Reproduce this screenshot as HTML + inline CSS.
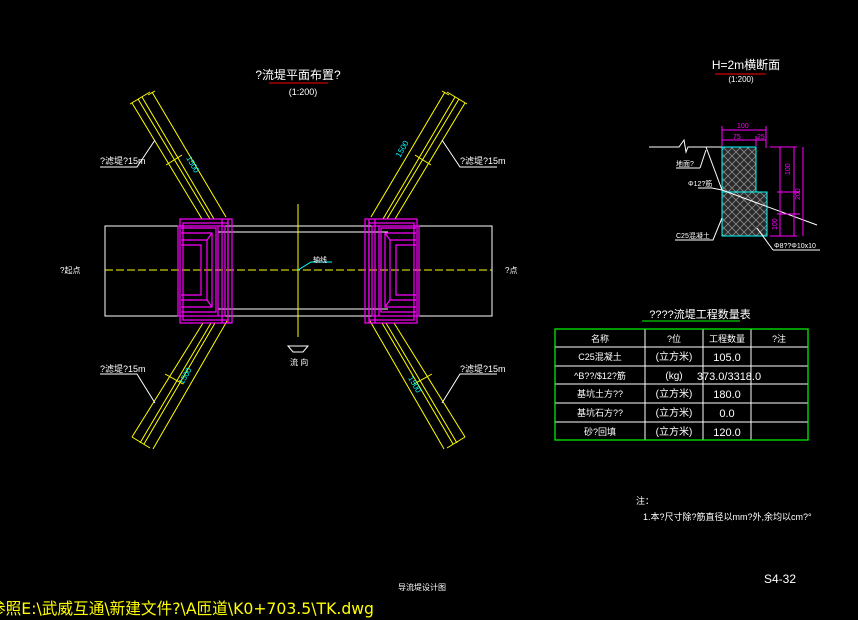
<!DOCTYPE html>
<html><head><meta charset="utf-8"><style>
html,body{margin:0;padding:0;background:#000;width:858px;height:620px;overflow:hidden}
svg{display:block}
text{font-family:"Liberation Sans","Noto Sans CJK SC",sans-serif}
</style></head><body>
<svg width="858" height="620" viewBox="0 0 858 620" xmlns="http://www.w3.org/2000/svg">
<defs>
<pattern id="hatch" width="8" height="8" patternUnits="userSpaceOnUse">
<rect width="8" height="8" fill="#2a2a2a"/>
<path d="M0 0L8 8M8 0L0 8" stroke="#888" stroke-width="0.8"/>
</pattern>
<g id="magL" fill="none" stroke="#f0f" stroke-width="1.2">
<rect x="180" y="219" width="52" height="104"/>
<rect x="178" y="226" width="47" height="90"/>
<rect x="183" y="223" width="45" height="97"/>
<line x1="218" y1="226" x2="218" y2="316"/>
<line x1="222" y1="219" x2="222" y2="323"/>
<line x1="228" y1="219" x2="228" y2="323"/>
<path d="M181 233H212V307H181"/>
<path d="M181 240H207V300H181"/>
<path d="M181 245H201V295H181"/>
<path d="M181 228H216V312H181"/>
<line x1="207" y1="240" x2="212" y2="233"/>
<line x1="207" y1="300" x2="212" y2="307"/>
</g>
<g id="bandL" fill="none" stroke="#ff0" stroke-width="1">
<line x1="132" y1="103" x2="202" y2="219"/>
<line x1="138" y1="99" x2="210" y2="219"/>
<line x1="142" y1="97" x2="214" y2="219"/>
<line x1="152" y1="92" x2="226" y2="217"/>
<line x1="130" y1="104" x2="150" y2="92"/>
<line x1="148" y1="95" x2="155" y2="91"/>
<line x1="166" y1="165" x2="182" y2="155"/>
<line x1="203" y1="323" x2="132" y2="437"/>
<line x1="211" y1="323" x2="140" y2="443"/>
<line x1="215" y1="323" x2="144" y2="444"/>
<line x1="227" y1="321" x2="153" y2="449"/>
<line x1="132" y1="437" x2="150" y2="448"/>
<line x1="165" y1="374" x2="183" y2="384"/>
</g>
</defs>

<g fill="none" stroke="#fff" stroke-width="1">
<rect x="105" y="226" width="387" height="90"/>
<line x1="218" y1="232" x2="388" y2="232"/>
<line x1="218" y1="309" x2="388" y2="309"/>
</g>
<line x1="105" y1="270" x2="492" y2="270" stroke="#ff0" stroke-width="1" stroke-dasharray="8,3"/>
<line x1="298" y1="204" x2="298" y2="337" stroke="#ff0" stroke-width="1"/>
<use href="#bandL"/>
<use href="#bandL" transform="translate(597,0) scale(-1,1)"/>
<use href="#magL"/>
<use href="#magL" transform="translate(597,0) scale(-1,1)"/>
<path d="M298 270L311 262H332" stroke="#0ff" fill="none" stroke-width="1"/>
<text x="313" y="262" fill="#fff" font-size="7">轴线</text>
<g fill="#0ff" font-size="8">
<text x="186" y="158" transform="rotate(60 186 158)">1500</text>
<text x="400" y="158" transform="rotate(-60 400 158)">1500</text>
<text x="183" y="385" transform="rotate(-60 183 385)">1500</text>
<text x="408" y="378" transform="rotate(60 408 378)">1500</text>
</g>
<g stroke="#fff" fill="none" stroke-width="1">
<path d="M100 167H137L155 140"/>
<path d="M497 167H460L442 140"/>
<path d="M100 374H137L155 403"/>
<path d="M497 374H460L442 403"/>
<path d="M288 346H308L303 352H293Z"/>
</g>
<g fill="#fff" font-size="9">
<text x="100" y="164">?滤堤?15m</text>
<text x="460" y="164">?滤堤?15m</text>
<text x="100" y="372">?滤堤?15m</text>
<text x="460" y="372">?滤堤?15m</text>
<text x="290" y="365" font-size="8">流 向</text>
<text x="60" y="273" font-size="8">?起点</text>
<text x="505" y="273" font-size="8">?点</text>
</g>
<text x="298" y="79" fill="#fff" font-size="12" text-anchor="middle">?流堤平面布置?</text>
<line x1="269" y1="83" x2="328" y2="83" stroke="#f00" stroke-width="1"/>
<text x="303" y="95" fill="#fff" font-size="9" text-anchor="middle">(1:200)</text>

<text x="746" y="69" fill="#fff" font-size="12" text-anchor="middle">H=2m横断面</text>
<line x1="715" y1="74" x2="766" y2="74" stroke="#f00" stroke-width="1"/>
<text x="741" y="82" fill="#fff" font-size="8" text-anchor="middle">(1:200)</text>
<rect x="722" y="147" width="34" height="45" fill="url(#hatch)" stroke="#0ff"/>
<rect x="722" y="192" width="45" height="44" fill="url(#hatch)" stroke="#0ff"/>
<g stroke="#fff" fill="none" stroke-width="1">
<path d="M649 147H679L684 140L686 152L688 147H722"/>
<path d="M706 147L722 190L760 204L817 225"/>
<path d="M700 168H676"/><path d="M706 150L700 168"/>
<path d="M698 188H712L722 190"/>
<path d="M675 240H713L722 218"/>
<path d="M773 250H820"/><path d="M757 228L773 250"/>
</g>
<g fill="#fff" font-size="7">
<text x="676" y="166">地面?</text>
<text x="688" y="186">Φ12?筋</text>
<text x="676" y="238">C25混凝土</text>
<text x="774" y="248">Φ8??Φ10x10</text>
</g>
<g stroke="#f0f" fill="none" stroke-width="1">
<path d="M722 130H766M722 140H756M756 140H766M722 126V146M766 126V148M756 136V146"/>
<path d="M770 147H797M770 236H797M780 147V236M794 147V236M803 147V236M777 192H800M777 214H800"/>
</g>
<g fill="#f0f" font-size="7">
<text x="737" y="128">100</text><text x="733" y="139">75</text><text x="757" y="139">25</text>
<text x="790" y="175" transform="rotate(-90 790 175)">100</text>
<text x="800" y="200" transform="rotate(-90 800 200)">200</text>
<text x="777" y="230" transform="rotate(-90 777 230)">100</text>
</g>

<text x="700" y="318" fill="#fff" font-size="11" text-anchor="middle">????流堤工程数量表</text>
<line x1="642" y1="321" x2="740" y2="321" stroke="#0f0" stroke-width="1"/>
<g stroke="#fff" stroke-width="1">
<line x1="555" y1="347" x2="808" y2="347"/><line x1="555" y1="366" x2="808" y2="366"/>
<line x1="555" y1="384" x2="808" y2="384"/><line x1="555" y1="403" x2="808" y2="403"/>
<line x1="555" y1="422" x2="808" y2="422"/>
<line x1="645" y1="329" x2="645" y2="440"/><line x1="703" y1="329" x2="703" y2="440"/>
<line x1="751" y1="329" x2="751" y2="440"/>
</g>
<rect x="555" y="329" width="253" height="111" fill="none" stroke="#0f0" stroke-width="1.2"/>
<g fill="#fff" font-size="9" text-anchor="middle">
<text x="600" y="342">名称</text><text x="674" y="342">?位</text><text x="727" y="342">工程数量</text><text x="779" y="342">?注</text>
<text x="600" y="360">C25混凝土</text><text x="674" y="360" font-size="10">(立方米)</text><text x="727" y="361" font-size="11">105.0</text>
<text x="600" y="379">^B??/$12?筋</text><text x="674" y="379" font-size="10">(kg)</text><text x="729" y="380" font-size="11">373.0/3318.0</text>
<text x="600" y="397">基坑土方??</text><text x="674" y="397" font-size="10">(立方米)</text><text x="727" y="398" font-size="11">180.0</text>
<text x="600" y="416">基坑石方??</text><text x="674" y="416" font-size="10">(立方米)</text><text x="727" y="417" font-size="11">0.0</text>
<text x="600" y="435">砂?回填</text><text x="674" y="435" font-size="10">(立方米)</text><text x="727" y="436" font-size="11">120.0</text>
</g>

<g fill="#fff" font-size="9">
<text x="636" y="504">注：</text>
<text x="643" y="520">1.本?尺寸除?筋直径以mm?外,余均以cm?°</text>
<text x="764" y="583" font-size="12">S4-32</text>
<text x="398" y="590" font-size="8">导流堤设计图</text>
</g>
<text x="-10" y="614" fill="#ff0" font-size="16" textLength="384" lengthAdjust="spacingAndGlyphs" style="font-family:'DejaVu Sans','Noto Sans CJK SC',sans-serif">参照E:\武威互通\新建文件?\A匝道\K0+703.5\TK.dwg</text>
</svg>
</body></html>
